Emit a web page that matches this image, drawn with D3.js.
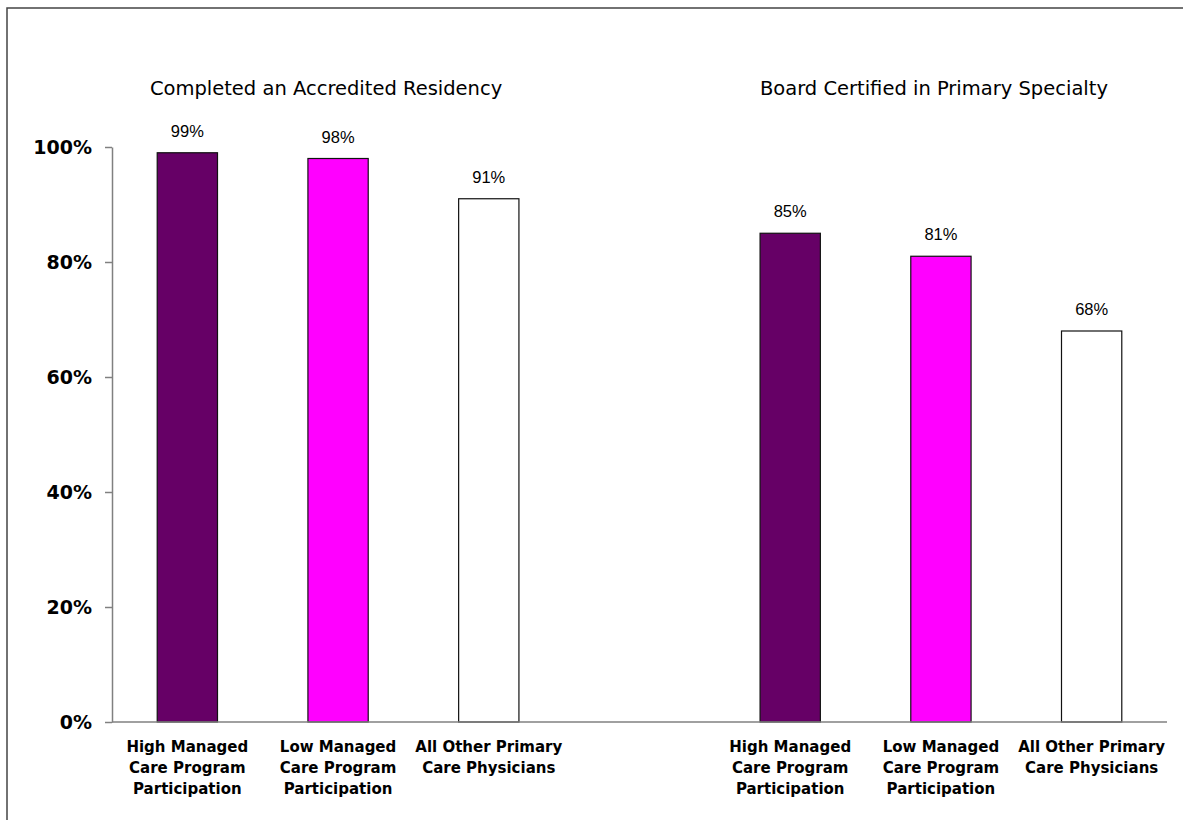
<!DOCTYPE html>
<html>
<head>
<meta charset="utf-8">
<script src="https://cdn.jsdelivr.net/npm/d3@7"></script>
<style>
  body { margin: 0; background: #fff; }
</style>
</head>
<body>
<div id="container"></div>
<script>
// two panels of three bars, with an empty slot between them
let groupTitles = ["Completed an Accredited Residency", "Board Certified in Primary Specialty"];
let categories = [
  ["High Managed", "Care Program", "Participation"],
  ["Low Managed", "Care Program", "Participation"],
  ["All Other Primary", "Care Physicians"]
];
let residencyValues = [99, 98, 91];
let boardValues = [85, 81, 68];
let barColors = ["#660066", "#ff00ff", "#ffffff"];
let yTicks = [0, 20, 40, 60, 80, 100];

let w = 1183;
let h = 820;

let viz = d3.select("#container")
  .append("svg")
    .attr("width", w)
    .attr("height", h)
    .style("background-color", "white");

// frame round the chart area
viz.append("path")
  .attr("d", "M7," + h + " L7,8 L" + w + ",8")
  .attr("fill", "none")
  .attr("stroke", "#444")
  .attr("stroke-width", 1.5);

// slots: 3 bars, a gap, 3 bars
let slots = ["a0", "a1", "a2", "gap", "b0", "b1", "b2"];
let data = [];
residencyValues.forEach(function(v, i) { data.push({slot: "a" + i, value: v, cat: i}); });
boardValues.forEach(function(v, i) { data.push({slot: "b" + i, value: v, cat: i}); });

let xScale = d3.scaleBand().domain(slots).range([112, 1167]).padding(0);
let yScale = d3.scaleLinear().domain([0, 100]).range([722, 147]);

let barWidth = xScale.bandwidth() * 0.4;

// y axis
let yAxis = d3.axisLeft(yScale)
  .tickValues(yTicks)
  .tickFormat(function(d) { return d + "%"; })
  .tickSize(7)
  .tickSizeOuter(0);

let yAxisGroup = viz.append("g")
  .attr("transform", "translate(112,0)")
  .call(yAxis);
yAxisGroup.select(".domain").attr("stroke", "#808080").attr("stroke-width", 1.5);
yAxisGroup.selectAll(".tick line").attr("stroke", "#808080").attr("stroke-width", 1.5);
yAxisGroup.selectAll(".tick text")
  .attr("x", -20)
  .style("font-family", "DejaVu Sans")
  .style("font-weight", "bold")
  .style("font-size", "19px")
  .attr("fill", "#000");

// bars
viz.selectAll(".bar").data(data).enter()
  .append("rect")
    .attr("class", "bar")
    .attr("x", function(d) { return xScale(d.slot) + (xScale.bandwidth() - barWidth) / 2; })
    .attr("width", barWidth)
    .attr("y", function(d) { return yScale(d.value); })
    .attr("height", function(d) { return yScale(0) - yScale(d.value); })
    .attr("fill", function(d) { return barColors[d.cat]; })
    .attr("stroke", "#111")
    .attr("stroke-width", 1.2);

// x axis line (drawn after bars)
viz.append("line")
  .attr("x1", 112).attr("x2", 1167)
  .attr("y1", yScale(0)).attr("y2", yScale(0))
  .attr("stroke", "#808080")
  .attr("stroke-width", 1.5);

// value labels
viz.selectAll(".valueLabel").data(data).enter()
  .append("text")
    .attr("class", "valueLabel")
    .attr("x", function(d) { return xScale(d.slot) + xScale.bandwidth() / 2; })
    .attr("y", function(d) { return yScale(d.value) - 16; })
    .attr("text-anchor", "middle")
    .style("font-family", "Liberation Sans")
    .style("font-size", "16.5px")
    .text(function(d) { return d.value + "%"; });

// category labels
let catGroups = viz.selectAll(".catLabel").data(data).enter()
  .append("text")
    .attr("class", "catLabel")
    .attr("text-anchor", "middle")
    .style("font-family", "DejaVu Sans")
    .style("font-weight", "bold")
    .style("font-size", "15px");
catGroups.selectAll("tspan")
  .data(function(d) { return categories[d.cat].map(function(t) { return {t: t, slot: d.slot}; }); })
  .enter().append("tspan")
    .attr("x", function(d) { return xScale(d.slot) + xScale.bandwidth() / 2; })
    .attr("y", function(d, i) { return 752 + i * 21; })
    .text(function(d) { return d.t; });

// panel titles
viz.selectAll(".groupTitle").data(groupTitles).enter()
  .append("text")
    .attr("class", "groupTitle")
    .attr("x", function(d, i) { return xScale(i == 0 ? "a1" : "b1") + xScale.bandwidth() / 2 - (i == 0 ? 12 : 7); })
    .attr("y", 95)
    .attr("text-anchor", "middle")
    .style("font-family", "DejaVu Sans")
    .style("font-size", "19.5px")
    .text(function(d) { return d; });
</script>
</body>
</html>
